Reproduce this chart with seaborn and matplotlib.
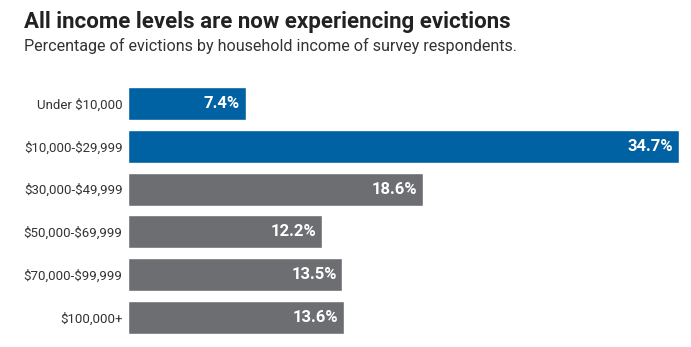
import matplotlib
matplotlib.use("Agg")
import matplotlib.pyplot as plt
import seaborn as sns
import pandas as pd

categories = ["Under $10,000", "$10,000-$29,999", "$30,000-$49,999",
              "$50,000-$69,999", "$70,000-$99,999", "$100,000+"]
values = [7.4, 34.7, 18.6, 12.2, 13.5, 13.6]
highlight = [True, True, False, False, False, False]

title = "All income levels are now experiencing evictions"
subtitle = "Percentage of evictions by household income of survey respondents."

sns.set_theme(style="white")
plt.rcParams['font.family'] = ['Roboto', 'DejaVu Sans']
plt.rcParams['text.parse_math'] = False

BLUE = "#0062A3"
GRAY = "#6D6E71"

df = pd.DataFrame({"cat": categories, "val": values})
palette = [BLUE if h else GRAY for h in highlight]

fig = plt.figure(figsize=(6.91, 3.47), dpi=100)
ax = fig.add_axes([128/691, 1-339/347, (679-128)/691, (339-82)/347])
sns.barplot(data=df, x="val", y="cat", hue="cat", palette=palette, legend=False,
            width=0.77, ax=ax, orient="h", saturation=1)
ax.set_xlim(0, 34.7)
ax.set_ylim(5.5, -0.5)
ax.set_xlabel("")
ax.set_ylabel("")
ax.set_xticks([])
for s in ax.spines.values():
    s.set_visible(False)
ax.tick_params(axis="y", length=0, pad=4, labelsize=9.5, labelcolor="#333333")

for i, v in enumerate(values):
    ax.text(v - 0.35, i, f"{v}%", ha="right", va="center", color="white",
            fontsize=12, fontweight="bold")

fig.text(24/691, 1-22/347, title, fontsize=16, fontweight="bold", color="#222222",
         ha="left", va="center")
fig.text(24/691, 1-46/347, subtitle, fontsize=11.6, color="#333333",
         ha="left", va="center")

fig.savefig("out.png", dpi=100)
